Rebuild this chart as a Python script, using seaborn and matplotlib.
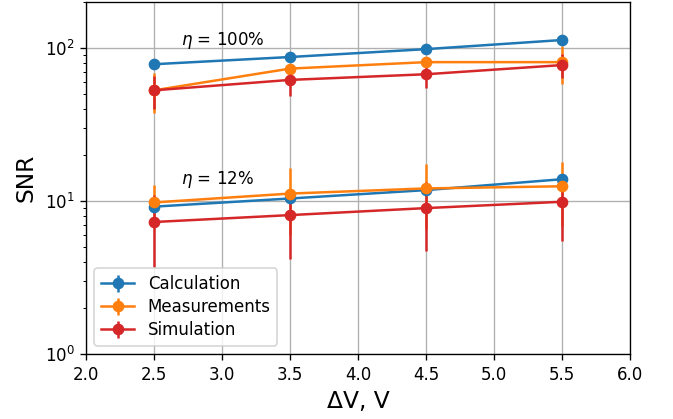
import numpy as np
import pandas as pd
import matplotlib
matplotlib.use("Agg")
import matplotlib.pyplot as plt
import seaborn as sns

# data
dv = [2.5, 3.5, 4.5, 5.5]
series = ["Calculation", "Measurements", "Simulation"]

# eta = 100 %
calc_100 = [78.5, 87.5, 98.5, 113.0]
meas_100 = [53.0, 73.5, 81.0, 81.0]
sim_100 = [53.0, 62.0, 67.5, 77.5]
calc_100_err = [0, 0, 0, 0]
meas_100_err = [15.5, 2.0, 2.0, 23.0]
sim_100_err = [13.0, 13.5, 13.0, 14.0]

# eta = 12 %
calc_12 = [9.2, 10.4, 11.8, 13.9]
meas_12 = [9.8, 11.2, 12.1, 12.5]
sim_12 = [7.3, 8.1, 9.0, 9.9]
calc_12_err = [0, 0, 0, 0]
meas_12_err = [3.0, 5.2, 5.5, 5.6]
sim_12_err = [3.6, 3.9, 4.3, 4.4]

labels_eta = ["$\\eta$ = 100%", "$\\eta$ = 12%"]
label_y = [105, 13]

plt.style.use("default")
colors = sns.color_palette("tab10")
pal = {"Calculation": colors[0], "Measurements": colors[1], "Simulation": colors[3]}

fig = plt.figure(figsize=(673 / 120, 419 / 120), dpi=120)
ax = fig.add_axes([0.128, 0.155, 0.808, 0.840])

groups = [
    (calc_100, meas_100, sim_100, calc_100_err, meas_100_err, sim_100_err),
    (calc_12, meas_12, sim_12, calc_12_err, meas_12_err, sim_12_err),
]

for gi, (c, m, s, ce, me, se) in enumerate(groups):
    for name, vals, errs in zip(series, [c, m, s], [ce, me, se]):
        ax.errorbar(dv, vals, yerr=errs, fmt="-o", color=pal[name],
                    label=name if gi == 0 else None)

for txt, yy in zip(labels_eta, label_y):
    ax.text(2.7, yy, txt)

ax.set_yscale("log")
ax.set_xlim(2.0, 6.0)
ax.set_ylim(1, 200)
ax.set_xticks(np.arange(2.0, 6.01, 0.5))
ax.grid(True, which="major")
ax.set_xlabel("ΔV, V", fontsize=14)
ax.set_ylabel("SNR", fontsize=14)
ax.legend(loc="lower left", labelspacing=0.3)

fig.savefig("out.png", dpi=120)
